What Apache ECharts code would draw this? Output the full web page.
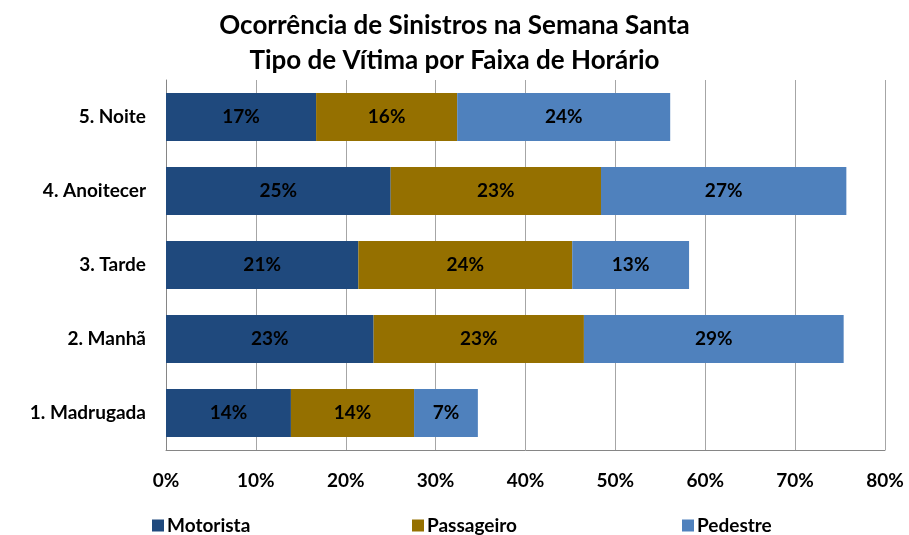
<!DOCTYPE html>
<html>
<head>
<meta charset="utf-8">
<script src="https://cdn.jsdelivr.net/npm/echarts@6/dist/echarts.min.js"></script>
<style>
  html, body { margin: 0; padding: 0; background: #fff; }
  #chart { width: 909px; height: 535px; }
</style>
</head>
<body>
<div id="chart"></div>
<script>
const categories = ['1. Madrugada', '2. Manhã', '3. Tarde', '4. Anoitecer', '5. Noite'];
const seriesNames = ['Motorista', 'Passageiro', 'Pedestre'];
const motorista = [13.9, 23.1, 21.4, 25.0, 16.7];
const passageiro = [13.7, 23.4, 23.8, 23.4, 15.7];
const pedestre = [7.1, 28.9, 13.0, 27.3, 23.7];
const colors = ['#1f497d', '#957000', '#4f81bd'];

const font = 'Lato, "Open Sans", sans-serif';
const chart = echarts.init(document.getElementById('chart'));

function makeSeries(name, data, color) {
    return {
        name: name,
        type: 'bar',
        stack: 'total',
        barWidth: 48,
        data: data,
        itemStyle: {color: color},
        label: {
            show: true,
            position: 'inside',
            color: '#000',
            fontFamily: font,
            fontWeight: 'bold',
            fontSize: 19,
            formatter: function (p) {
                return Math.round(p.value) + '%';
            }
        }
    };
}

const legendLefts = [147, 407, 677];

const option = {
    animation: false,
    textStyle: {fontFamily: font},
    title: {
        text: 'Ocorrência de Sinistros na Semana Santa\nTipo de Vítima por Faixa de Horário',
        left: 'center',
        top: 3,
        textStyle: {
            fontFamily: font,
            fontWeight: 'bold',
            fontSize: 26,
            lineHeight: 35,
            color: '#000'
        }
    },
    legend: seriesNames.map(function (n, i) {
        return {
            data: [n],
            left: legendLefts[i],
            top: 511,
            itemWidth: 12,
            itemHeight: 12,
            itemGap: 4,
            icon: 'rect',
            textStyle: {fontFamily: font, fontWeight: 'bold', fontSize: 19, color: '#000', padding: [0, 0, 0, -2]}
        };
    }),
    grid: {left: 166, right: 24, top: 80, bottom: 85},
    xAxis: {
        type: 'value',
        min: 0,
        max: 80,
        interval: 10,
        axisLine: {show: true, lineStyle: {color: '#868686'}},
        axisTick: {show: false},
        splitLine: {show: true, lineStyle: {color: '#a6a6a6'}},
        axisLabel: {
            formatter: '{value}%',
            color: '#000',
            fontFamily: font,
            fontWeight: 'bold',
            fontSize: 19,
            margin: 21
        }
    },
    yAxis: {
        type: 'category',
        data: categories,
        axisLine: {show: true, lineStyle: {color: '#868686'}},
        axisTick: {show: false},
        axisLabel: {
            color: '#000',
            fontFamily: font,
            fontWeight: 'bold',
            fontSize: 19,
            margin: 20
        }
    },
    series: [
        makeSeries(seriesNames[0], motorista, colors[0]),
        makeSeries(seriesNames[1], passageiro, colors[1]),
        makeSeries(seriesNames[2], pedestre, colors[2])
    ]
};

chart.setOption(option);
</script>
</body>
</html>
